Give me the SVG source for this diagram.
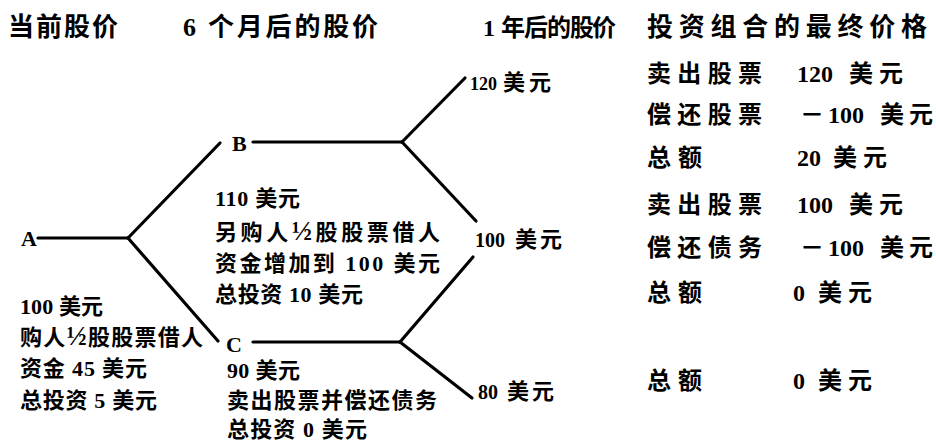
<svg xmlns="http://www.w3.org/2000/svg" width="936" height="443" viewBox="0 0 936 443">
<style>
text{font-family:"Liberation Serif","Noto Sans CJK SC",serif;font-weight:bold;fill:#000}
.h{font-size:26px}
.r{font-size:24px}
.b{font-size:22px}
.d{font-size:20px}
.l{font-size:22px}
.f{font-size:27px}
.c line{stroke:#000;stroke-width:3.2;stroke-linecap:round}
</style>
<rect width="936" height="443" fill="#fff"/>
<g id="headers">
<text class="h" x="8" y="36" textLength="110">当前股价</text>
<text class="h" x="183" y="36" textLength="195">6 个月后的股价</text>
<text class="h" y="36" style="font-size:24px"><tspan x="483">1</tspan><tspan x="501 524 547 570 592">年后的股价</tspan></text>
<text class="h" x="647" y="36" textLength="280">投资组合的最终价格</text>
</g>
<g class="c" id="connectors">
<line x1="38" y1="238" x2="128" y2="238"/>
<line x1="128" y1="238" x2="220" y2="143"/>
<line x1="128" y1="238" x2="218" y2="341"/>
<line x1="253" y1="142" x2="402" y2="142"/>
<line x1="402" y1="142" x2="465" y2="78"/>
<line x1="402" y1="142" x2="476" y2="221"/>
<line x1="253" y1="342" x2="400" y2="342"/>
<line x1="400" y1="342" x2="473" y2="257"/>
<line x1="400" y1="342" x2="472" y2="398"/>
</g>
<g id="node-A">
<text class="l" x="21" y="246">A</text>
<text class="l" x="20" y="314" textLength="83">100 美元</text>
<text class="l" x="20" y="345" textLength="183">购人<tspan class="f">½</tspan>股股票借人</text>
<text class="l" x="20" y="376" textLength="127">资金 45 美元</text>
<text class="l" x="20" y="408" textLength="137">总投资 5 美元</text>
</g>
<g id="node-B">
<text class="l" x="232" y="151">B</text>
<text class="l" x="215" y="206" textLength="85">110 美元</text>
<text class="l" x="215" y="240" textLength="225">另购人<tspan class="f">½</tspan>股股票借人</text>
<text class="l" x="215" y="271" textLength="225">资金增加到 100 美元</text>
<text class="l" x="215" y="302" textLength="148">总投资 10 美元</text>
</g>
<g id="node-C">
<text class="l" x="226" y="352">C</text>
<text class="l" x="227" y="378" textLength="73">90 美元</text>
<text class="l" x="227" y="408" textLength="210">卖出股票并偿还债务</text>
<text class="l" x="227" y="437" textLength="140">总投资 0 美元</text>
</g>
<g id="node-120">
<text class="b" y="90"><tspan x="470" style="font-size:18px">120</tspan> <tspan x="503 529">美元</tspan></text>
</g>
<g id="node-100">
<text class="b" y="247"><tspan x="475" class="d">100</tspan> <tspan x="515 540">美元</tspan></text>
</g>
<g id="node-80">
<text class="b" y="399"><tspan x="478" class="d">80</tspan> <tspan x="507 532">美元</tspan></text>
</g>
<g id="portfolio">
<text class="r" x="647" y="82" textLength="115">卖出股票</text>
<text class="r" y="82"><tspan x="797">120</tspan> <tspan x="849 879">美元</tspan></text>
<text class="r" x="647" y="123" textLength="115">偿还股票</text>
<text class="r" y="123"><tspan x="800">－</tspan><tspan x="828">100</tspan> <tspan x="880 909">美元</tspan></text>
<text class="r" x="647" y="166" textLength="55">总额</text>
<text class="r" y="166"><tspan x="797">20</tspan> <tspan x="833 863">美元</tspan></text>
<text class="r" x="647" y="213" textLength="115">卖出股票</text>
<text class="r" y="213"><tspan x="797">100</tspan> <tspan x="849 879">美元</tspan></text>
<text class="r" x="647" y="256" textLength="115">偿还债务</text>
<text class="r" y="256"><tspan x="800">－</tspan><tspan x="828">100</tspan> <tspan x="880 909">美元</tspan></text>
<text class="r" x="647" y="301" textLength="55">总额</text>
<text class="r" y="301"><tspan x="793">0</tspan> <tspan x="818 848">美元</tspan></text>
<text class="r" x="647" y="389" textLength="55">总额</text>
<text class="r" y="389"><tspan x="793">0</tspan> <tspan x="818 848">美元</tspan></text>
</g>
</svg>
